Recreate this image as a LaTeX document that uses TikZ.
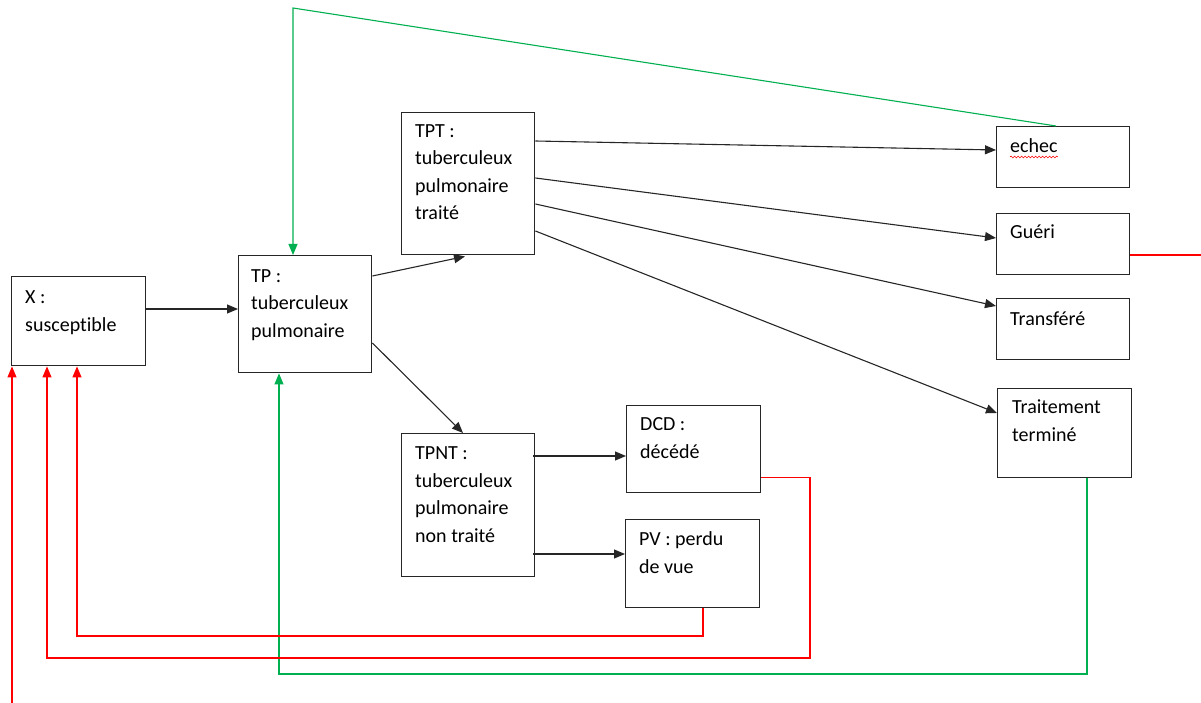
\documentclass[tikz,border=0pt]{standalone}
\usepackage{fontspec}
\setmainfont{Carlito}[Ligatures=NoCommon]
\usetikzlibrary{arrows.meta,calc,decorations.pathmorphing}
\definecolor{lgreen}{RGB}{0,176,80}
\definecolor{lred}{RGB}{255,0,0}
\begin{document}
\begin{tikzpicture}[x=1pt,y=-1pt,
  box/.style={draw=black!85,line width=1.4pt,rectangle,inner sep=0pt,anchor=north west},
  txt/.style={anchor=base west,align=left,inner sep=0pt,font=\fontsize{20}{27.5}\selectfont},
  arr/.style={draw=black!85,line width=1.1pt,-{Triangle[length=11pt,width=9pt]}},
  garr/.style={draw=lgreen,line width=1.1pt,-{Triangle[length=11pt,width=9pt]}},
  rarr/.style={draw=lred,line width=1.1pt,-{Triangle[length=11pt,width=9pt]}},
  rline/.style={draw=lred,line width=1.1pt}
]
\useasboundingbox (0,0) rectangle (1201,703);
% boxes
\node[box,minimum width=134pt,minimum height=89pt] (X) at (11,276) {};
\node[box,minimum width=133pt,minimum height=117pt] (TP) at (238,255) {};
\node[box,minimum width=133pt,minimum height=142pt] (TPT) at (401,112) {};
\node[box,minimum width=133pt,minimum height=143pt] (TPNT) at (401,433) {};
\node[box,minimum width=134pt,minimum height=87pt] (DCD) at (626,405) {};
\node[box,minimum width=134pt,minimum height=88pt] (PV) at (625,519) {};
\node[box,minimum width=133pt,minimum height=61pt] (echec) at (996,126) {};
\node[box,minimum width=133pt,minimum height=61pt] (gueri) at (996,213) {};
\node[box,minimum width=133pt,minimum height=61pt] (transf) at (996,298) {};
\node[box,minimum width=134pt,minimum height=89pt] (trait) at (997,388) {};
% texts (anchored at the baseline of their last line)
\node[txt] (Xt) at (25,331) {X :\\susceptible};
\node[txt] (TPt) at (251,337) {TP :\\tuberculeux\\pulmonaire};
\node[txt] (TPTt) at (415,220) {TPT :\\tuberculeux\\pulmonaire\\traité};
\node[txt] (TPNTt) at (415,542) {TPNT :\\tuberculeux\\pulmonaire\\non traité};
\node[txt] (DCDt) at (640,458) {DCD :\\décédé};
\node[txt] (PVt) at (639,573) {PV : perdu\\de vue};
\node[txt] (echect) at (1010,153) {echec};
\node[txt] (guerit) at (1010,239) {Guéri};
\node[txt] (transt) at (1010,325) {Transféré};
\node[txt] (traitt) at (1012,441) {Traitement\\terminé};
\draw[lred,line width=0.6pt,decorate,decoration={snake,amplitude=0.9pt,segment length=3.5pt}]
  ($(echect.base west)+(0,4)$) -- ($(echect.base east)+(0,4)$);
% black arrows
\draw[arr] ($(X.north east)+(0,33)$) -- ($(TP.north west)+(0,54)$);
\draw[arr] ($(TP.north east)+(0,21)$) -- ($(TPT.south west)+(64,1)$);
\draw[arr] ($(TP.north east)+(0,88)$) -- ($(TPNT.north west)+(62,0)$);
\draw[arr] ($(TPT.north east)+(0,29)$) -- ($(echec.north west)+(0,24)$);
\draw[arr] ($(TPT.north east)+(0,66)$) -- ($(gueri.north west)+(0,25)$);
\draw[arr] ($(TPT.north east)+(0,92)$) -- ($(transf.north west)+(0,8)$);
\draw[arr] ($(TPT.north east)+(0,119)$) -- ($(trait.north west)+(0,25)$);
\draw[arr] ($(TPNT.north east)+(-2,23)$) -- ($(DCD.north west)+(0,51)$);
\draw[arr] ($(TPNT.north east)+(-2,121)$) -- ($(PV.north west)+(0,35)$);
% green loops
\coordinate (gtop) at (293,8);
\coordinate (gbot) at (279,674);
\draw[garr] ($(echec.north west)+(60,0)$) -- (gtop) -- ($(TP.north west)+(55,0)$);
\draw[garr] ($(trait.south west)+(90,0)$) |- (gbot) -- ($(TP.south west)+(41,0)$);
% red loops
\coordinate (rd) at (810,658);
\coordinate (rp) at (77,636);
\coordinate (rl) at (12,703);
\coordinate (rg) at (1201,255);
\draw[rarr] ($(DCD.south east)+(0,-16)$) -| (rd) -| ($(X.south west)+(36,0)$);
\draw[rarr] ($(PV.south west)+(78,0)$) |- (rp) -- ($(X.south west)+(66,0)$);
\draw[rarr] (rl) -- ($(X.south west)+(1,0)$);
\draw[rline] ($(gueri.north east)+(0,42)$) -- (rg);
\end{tikzpicture}
\end{document}
